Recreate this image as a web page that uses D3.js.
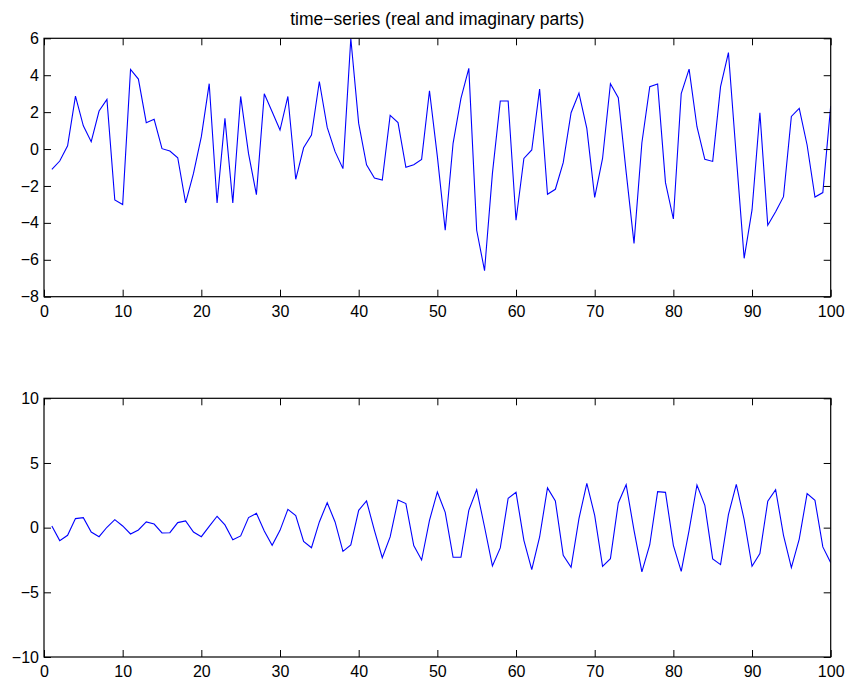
<!DOCTYPE html>
<html>
<head>
<meta charset="utf-8">
<script src="https://cdn.jsdelivr.net/npm/d3@7"></script>
<style>
  body { margin: 0; background: #fff; }
  svg { display: block; }
  .tick text { font-family: "Liberation Sans", Arial, Helvetica, sans-serif; font-size: 16px; fill: #000; }
  .title { font-family: "Liberation Sans", Arial, Helvetica, sans-serif; font-size: 17.5px; fill: #000; }
</style>
</head>
<body>
<svg id="chart" width="847" height="682"></svg>
<script>
// real part (top panel), samples 1..100
var realPart = [
  -1.10, -0.65, 0.18, 2.87, 1.26, 0.40, 2.06, 2.69, -2.76, -3.01,
  4.31, 3.79, 1.43, 1.61, 0.02, -0.11, -0.47, -2.92, -1.32, 0.67,
  3.54, -2.92, 1.66, -2.92, 2.85, -0.25, -2.47, 3.00, 2.02, 1.03,
  2.85, -1.64, 0.07, 0.76, 3.66, 1.17, -0.14, -1.06, 5.99, 1.39,
  -0.85, -1.57, -1.68, 1.82, 1.43, -0.99, -0.85, -0.56, 3.16, -0.40,
  -4.40, 0.31, 2.74, 4.37, -4.40, -6.59, -1.32, 2.60, 2.60, -3.86,
  -0.51, -0.05, 3.25, -2.45, -2.18, -0.74, 1.97, 3.03, 1.12, -2.62,
  -0.51, 3.54, 2.78, -1.25, -5.11, 0.34, 3.38, 3.52, -1.82, -3.79,
  3.01, 4.33, 1.21, -0.56, -0.67, 3.38, 5.23, -0.40, -5.92, -3.30,
  1.97, -4.13, -3.40, -2.58, 1.77, 2.20, 0.22, -2.60, -2.36, 2.33
];

// imaginary part (bottom panel), samples 1..100
var imagPart = [
  0.13, -1.00, -0.59, 0.70, 0.77, -0.34, -0.70, 0.03, 0.62, 0.13,
  -0.49, -0.18, 0.44, 0.28, -0.41, -0.39, 0.39, 0.52, -0.34, -0.70,
  0.10, 0.88, 0.21, -0.93, -0.64, 0.78, 1.11, -0.26, -1.37, -0.21,
  1.42, 0.93, -1.06, -1.55, 0.44, 1.93, 0.44, -1.83, -1.34, 1.34,
  2.06, -0.21, -2.32, -0.72, 2.14, 1.86, -1.39, -2.50, 0.57, 2.76,
  1.18, -2.29, -2.29, 1.34, 2.94, 0.05, -2.96, -1.57, 2.27, 2.73,
  -0.98, -3.25, -0.72, 3.07, 2.06, -2.14, -3.07, 0.70, 3.43, 0.95,
  -2.99, -2.40, 1.91, 3.32, -0.21, -3.42, -1.32, 2.78, 2.73, -1.37,
  -3.38, -0.21, 3.30, 1.73, -2.42, -2.86, 1.01, 3.35, 0.62, -2.99,
  -2.01, 2.04, 2.94, -0.59, -3.09, -0.88, 2.63, 2.11, -1.49, -2.71
];

var xTicks = [0, 10, 20, 30, 40, 50, 60, 70, 80, 90, 100];
var topYTicks = [-8, -6, -4, -2, 0, 2, 4, 6];
var bottomYTicks = [-10, -5, 0, 5, 10];
var titleText = "time\u2212series (real and imaginary parts)";

var svg = d3.select("#chart");

var left = 44, right = 830.7;
var tickLen = 7;

const xScale = d3.scaleLinear()
                 .domain([0, 100])
                 .range([left, right]);

function drawPanel(values, yDomain, yTicks, top, bottom, id) {
  const yScale = d3.scaleLinear()
                   .domain(yDomain)
                   .range([bottom, top]);

  var g = svg.append("g");

  // keep the line inside the axes box
  svg.append("clipPath")
     .attr("id", id)
     .append("rect")
     .attr("x", left)
     .attr("y", top)
     .attr("width", right - left)
     .attr("height", bottom - top);

  // data line
  const line = d3.line()
                 .x((d, i) => xScale(i + 1))
                 .y(d => yScale(d));

  g.append("path")
   .datum(values)
   .attr("clip-path", `url(#${id})`)
   .attr("fill", "none")
   .attr("stroke", "#0000ff")
   .attr("stroke-width", 1.1)
   .attr("d", line);

  // axes with inward ticks on all four sides
  g.append("g")
   .attr("transform", `translate(0,${bottom})`)
   .call(d3.axisBottom(xScale).tickValues(xTicks).tickSize(-tickLen).tickSizeOuter(0).tickPadding(9).tickFormat(d3.format("d")));

  g.append("g")
   .attr("transform", `translate(0,${top})`)
   .call(d3.axisTop(xScale).tickValues(xTicks).tickSize(-tickLen).tickSizeOuter(0).tickFormat(""));

  g.append("g")
   .attr("transform", `translate(${left},0)`)
   .call(d3.axisLeft(yScale).tickValues(yTicks).tickSize(-tickLen).tickSizeOuter(0).tickPadding(5).tickFormat(d3.format("d")));

  g.append("g")
   .attr("transform", `translate(${right},0)`)
   .call(d3.axisRight(yScale).tickValues(yTicks).tickSize(-tickLen).tickSizeOuter(0).tickFormat(""));

  g.selectAll(".domain").remove();
  g.selectAll(".tick line").attr("stroke", "#000").attr("stroke-width", 1);

  // box
  g.append("rect")
   .attr("x", left)
   .attr("y", top)
   .attr("width", right - left)
   .attr("height", bottom - top)
   .attr("fill", "none")
   .attr("stroke", "#000")
   .attr("stroke-width", 1.2);

  return g;
}

drawPanel(realPart, [-8, 6], topYTicks, 38.3, 296.7, "clipTop");
drawPanel(imagPart, [-10, 10], bottomYTicks, 398.3, 657, "clipBottom");

svg.append("text")
   .attr("class", "title")
   .attr("x", (left + right) / 2)
   .attr("y", 25)
   .attr("text-anchor", "middle")
   .text(titleText);
</script>
</body>
</html>
